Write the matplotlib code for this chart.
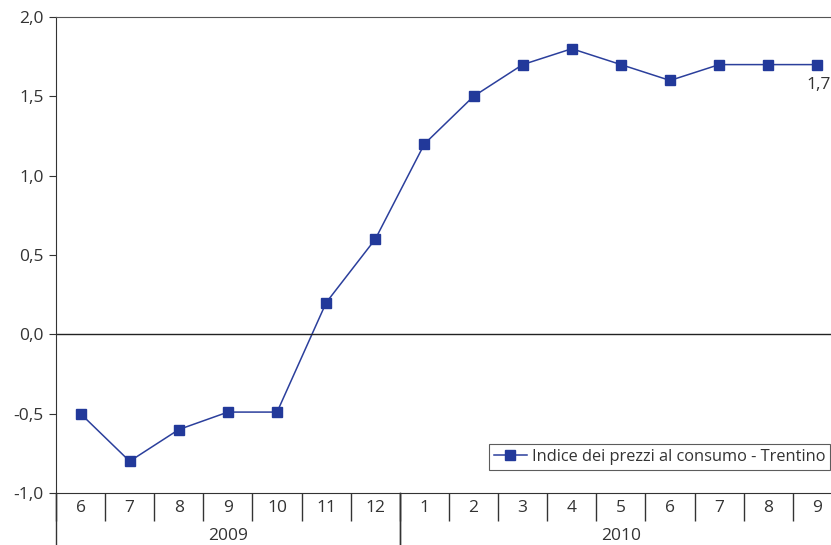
import matplotlib.pyplot as plt
from matplotlib.transforms import blended_transform_factory
import numpy as np

# dati
mesi = ['6', '7', '8', '9', '10', '11', '12', '1', '2', '3', '4', '5', '6', '7', '8', '9']
anni = ['2009', '2010']
mesi_per_anno = [7, 9]
valori = [-0.5, -0.8, -0.6, -0.49, -0.49, 0.2, 0.6, 1.2, 1.5, 1.7, 1.8, 1.7, 1.6, 1.7, 1.7, 1.7]

plt.rcParams['font.family'] = ['Open Sans', 'DejaVu Sans']
testo = '#333333'
fs = 12.5

fig = plt.figure(figsize=(8.31, 5.45), dpi=100)
ax = fig.add_axes([56 / 831, 52 / 545, 786 / 831, 476 / 545])

x = np.arange(len(mesi))
ax.plot(x, valori, color='#2b3f9c', lw=1.1, marker='s', ms=7,
        mfc='#22399a', mec='#22399a', label='Indice dei prezzi al consumo - Trentino')
ax.axhline(0, color='#222222', lw=1)

ax.annotate('1,7', (x[-1], valori[-1]), xytext=(1, -9), textcoords='offset points',
            ha='center', va='top', fontsize=fs, color=testo)

ax.set_xlim(-0.5, len(mesi) - 0.5)
ax.set_ylim(-1, 2)
yt = np.arange(-1, 2.01, 0.5)
ax.set_yticks(yt)
ax.set_yticklabels([f'{v:.1f}'.replace('.', ',') for v in yt], fontsize=fs, color=testo)
ax.tick_params(axis='y', length=5, color='#333333', pad=4)

ax.set_xticks(x)
ax.set_xticklabels(mesi, fontsize=fs, color=testo)
ax.tick_params(axis='x', which='major', length=0, pad=5)
ax.set_xticks(np.arange(-0.5, len(mesi), 1), minor=True)
ax.tick_params(axis='x', which='minor', length=20, color='#333333', width=1)

for s in ['top', 'right']:
    ax.spines[s].set_color('#555555')
ax.spines['left'].set_color('#333333')
ax.spines['bottom'].set_color('#333333')

# anni sotto l'asse
tr = blended_transform_factory(ax.transData, ax.transAxes)
inizio = -0.5
for anno, n in zip(anni, mesi_per_anno):
    fine = inizio + n
    ax.text((inizio + fine) / 2, -0.09, anno, transform=tr, ha='center', va='center',
            fontsize=fs, color=testo)
    for b in (inizio, fine):
        ax.plot([b, b], [0, -0.11], transform=tr, color='#333333', lw=1, clip_on=False)
    inizio = fine

leg = ax.legend(loc='lower right', bbox_to_anchor=(774 / 786, 0.048), fontsize=11.8,
                frameon=True, fancybox=False, handlelength=2.0, borderpad=0.3,
                handletextpad=0.3, borderaxespad=0)
leg.get_frame().set_edgecolor('#333333')
leg.get_frame().set_linewidth(0.8)
for t in leg.get_texts():
    t.set_color(testo)

fig.savefig('out.png', dpi=100)
